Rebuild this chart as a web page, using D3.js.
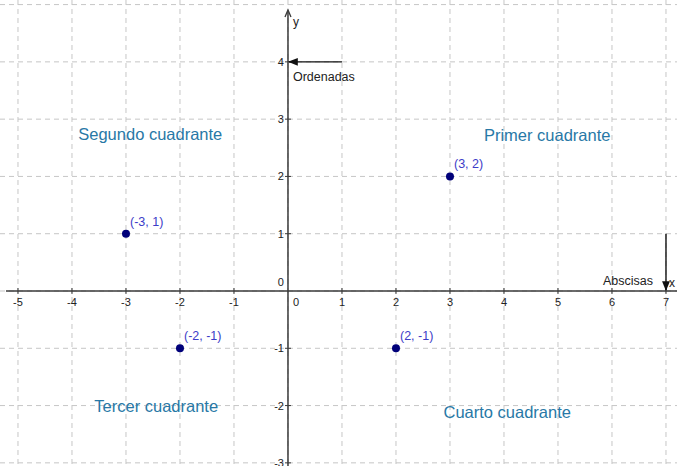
<!DOCTYPE html>
<html>
<head>
<meta charset="utf-8">
<script src="https://cdn.jsdelivr.net/npm/d3@7"></script>
<style>
  html, body { margin: 0; padding: 0; background: #fff; }
  svg { display: block; font-family: "Liberation Sans", Arial, sans-serif; }
</style>
</head>
<body>
<svg id="chart" width="677" height="466"></svg>
<script>
// data
const xTicks = [-5, -4, -3, -2, -1, 1, 2, 3, 4, 5, 6, 7];
const yTicks = [-3, -2, -1, 1, 2, 3, 4];
const points = [
  { x: 3, y: 2, label: "(3, 2)" },
  { x: -3, y: 1, label: "(-3, 1)" },
  { x: -2, y: -1, label: "(-2, -1)" },
  { x: 2, y: -1, label: "(2, -1)" }
];
const quadrantNames = ["Primer cuadrante", "Segundo cuadrante", "Tercer cuadrante", "Cuarto cuadrante"];
const quadrantAnchors = [[4.8, 2.72], [-2.55, 2.74], [-2.44, -2.0], [4.06, -2.12]];

const width = 677, height = 466;
const svg = d3.select("#chart");

const x = d3.scaleLinear().domain([-5.333, 7.204]).range([0, width]);
const y = d3.scaleLinear().domain([5.08, -3.055]).range([0, height]);

const gridColor = "#c6c6c6";
const axisColor = "#3a3a3a";

// grid
const grid = svg.append("g");
grid.selectAll("line.gx")
  .data(d3.range(-5, 8))
  .join("line")
  .attr("x1", (d) => x(d)).attr("x2", (d) => x(d))
  .attr("y1", 0).attr("y2", height)
  .attr("stroke", gridColor)
  .attr("stroke-dasharray", "5,4");
grid.selectAll("line.gy")
  .data(d3.range(-3, 6))
  .join("line")
  .attr("y1", (d) => y(d)).attr("y2", (d) => y(d))
  .attr("x1", 0).attr("x2", width)
  .attr("stroke", gridColor)
  .attr("stroke-dasharray", "5,4");

// axes
svg.append("defs").append("marker")
  .attr("id", "arrow")
  .attr("viewBox", "0 0 10 10")
  .attr("refX", 9).attr("refY", 5)
  .attr("markerWidth", 7).attr("markerHeight", 7)
  .attr("orient", "auto-start-reverse")
  .append("path")
  .attr("d", "M0,1 L10,5 L0,9 Z")
  .attr("fill", "#111");

svg.append("line")
  .attr("x1", 6).attr("x2", width)
  .attr("y1", y(0)).attr("y2", y(0))
  .attr("stroke", axisColor).attr("stroke-width", 1.5);
svg.append("line")
  .attr("x1", x(0)).attr("x2", x(0))
  .attr("y1", height).attr("y2", 12)
  .attr("stroke", axisColor).attr("stroke-width", 1.5);
// small arrow head at top of y axis
svg.append("path")
  .attr("d", `M${x(0) - 3},${17} L${x(0)},${10} L${x(0) + 3},${17}`)
  .attr("fill", "none").attr("stroke", axisColor).attr("stroke-width", 1.3);

// tick marks
svg.selectAll("line.tx")
  .data(xTicks)
  .join("line")
  .attr("x1", (d) => x(d)).attr("x2", (d) => x(d))
  .attr("y1", y(0) - 3).attr("y2", y(0) + 3)
  .attr("stroke", axisColor);
svg.selectAll("line.ty")
  .data(yTicks)
  .join("line")
  .attr("y1", (d) => y(d)).attr("y2", (d) => y(d))
  .attr("x1", x(0) - 3).attr("x2", x(0) + 3)
  .attr("stroke", axisColor);

svg.selectAll("text.tx")
  .data(xTicks)
  .join("text")
  .attr("x", (d) => x(d)).attr("y", y(0) + 15)
  .attr("text-anchor", "middle")
  .attr("font-size", 11).attr("fill", "#222")
  .text((d) => d);
svg.selectAll("text.ty")
  .data(yTicks)
  .join("text")
  .attr("x", x(0) - 4).attr("y", (d) => y(d) + 4)
  .attr("text-anchor", "end")
  .attr("font-size", 11).attr("fill", "#222")
  .text((d) => d);
svg.append("text")
  .attr("x", x(0) - 4).attr("y", y(0) - 5)
  .attr("text-anchor", "end").attr("font-size", 11).attr("fill", "#222")
  .text("0");
svg.append("text")
  .attr("x", x(0) + 5).attr("y", y(0) + 15)
  .attr("font-size", 11).attr("fill", "#222")
  .text("0");

// axis names
svg.append("text")
  .attr("x", x(0) + 5).attr("y", 26)
  .attr("font-size", 12).attr("fill", "#222")
  .text("y");
svg.append("text")
  .attr("x", x(7) + 3).attr("y", y(0) - 4)
  .attr("font-size", 12).attr("fill", "#222")
  .text("x");

// Ordenadas / Abscisas arrows
svg.append("line")
  .attr("x1", x(1)).attr("x2", x(0) + 1)
  .attr("y1", y(4)).attr("y2", y(4))
  .attr("stroke", "#111").attr("stroke-width", 1.4)
  .attr("marker-end", "url(#arrow)");
svg.append("text")
  .attr("x", x(0) + 5).attr("y", y(4) + 19)
  .attr("font-size", 12.5).attr("fill", "#222")
  .text("Ordenadas");
svg.append("line")
  .attr("x1", x(7)).attr("x2", x(7))
  .attr("y1", y(1)).attr("y2", y(0) - 1)
  .attr("stroke", "#111").attr("stroke-width", 1.4)
  .attr("marker-end", "url(#arrow)");
svg.append("text")
  .attr("x", x(7) - 13).attr("y", y(0) - 6)
  .attr("text-anchor", "end")
  .attr("font-size", 12.5).attr("fill", "#222")
  .text("Abscisas");

// quadrant names
svg.selectAll("text.quad")
  .data(quadrantNames)
  .join("text")
  .attr("x", (d, i) => x(quadrantAnchors[i][0]))
  .attr("y", (d, i) => y(quadrantAnchors[i][1]) + 6)
  .attr("text-anchor", "middle")
  .attr("font-size", 16.5).attr("fill", "#2878a6")
  .text((d) => d);

// points
svg.selectAll("circle.pt")
  .data(points)
  .join("circle")
  .attr("cx", (d) => x(d.x)).attr("cy", (d) => y(d.y))
  .attr("r", 4)
  .attr("fill", "#00007a");
svg.selectAll("text.pt")
  .data(points)
  .join("text")
  .attr("x", (d) => x(d.x) + 4).attr("y", (d) => y(d.y) - 8)
  .attr("font-size", 12.5).attr("fill", "#3c3cc8")
  .text((d) => d.label);
</script>
</body>
</html>
